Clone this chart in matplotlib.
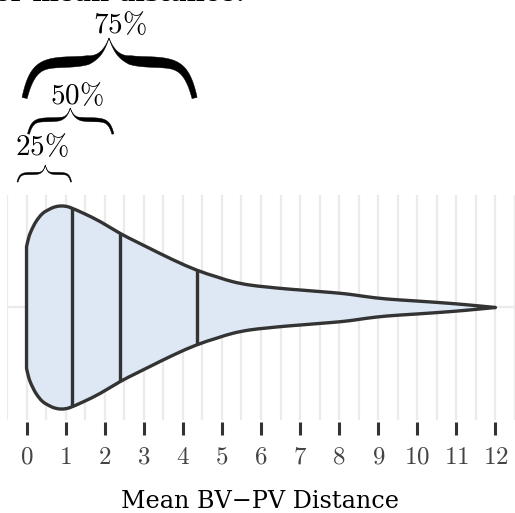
import numpy as np
import matplotlib
matplotlib.use("Agg")
import matplotlib.pyplot as plt
from matplotlib.patches import Polygon, PathPatch
from matplotlib.path import Path
from matplotlib.transforms import IdentityTransform

plt.rcParams["mathtext.fontset"] = "cm"

# Distribution of mean BV-PV distance (relative density along the axis)
dist_x = [0.0, 0.05, 0.11, 0.24, 0.41, 0.62, 0.75, 0.87, 1.0, 1.13, 1.47,
          1.89, 2.4, 2.8, 3.16, 3.76, 4.35, 4.86, 5.28, 5.7, 6.15, 6.6, 7.02,
          7.5, 8.03, 8.4, 8.71, 9.22, 9.98, 10.83, 11.51, 12.0]
density = [0.599, 0.680, 0.747, 0.845, 0.926, 0.975, 0.993, 1.0, 0.997,
           0.983, 0.926, 0.845, 0.729, 0.650, 0.581, 0.468, 0.369, 0.303,
           0.254, 0.222, 0.202, 0.185, 0.172, 0.157, 0.140, 0.123, 0.106,
           0.084, 0.064, 0.041, 0.018, 0.0]
quartiles = [1.17, 2.40, 4.35]
quartile_labels = ["25%", "50%", "75%"]
tick_values = list(range(13))
x_label = "Mean BV\u2212PV Distance"
title_text = "per mean distance."

W, H = 515, 513
fig = plt.figure(figsize=(W / 100, H / 100), dpi=100)
ax = fig.add_axes([7 / W, 1 - 420 / H, 508 / W, 225 / H])
ax.set_xlim(-0.432, 12.484)
ax.set_ylim(-0.5, 0.5)

# grid: integer and half-integer verticals, plus the centre line
ax.set_xticks(tick_values)
ax.set_xticks(np.arange(-0.5, 12.6, 0.5), minor=True)
ax.set_yticks([0])
ax.grid(which="both", axis="x", color="#ebebeb", lw=1.6, zorder=0)
ax.grid(which="major", axis="y", color="#ebebeb", lw=1.6, zorder=0)
ax.set_axisbelow(True)
for sp in ax.spines.values():
    sp.set_visible(False)
ax.spines["bottom"].set_position(("outward", 1.5))
ax.tick_params(axis="y", length=0, labelleft=False)
ax.tick_params(axis="x", which="minor", length=0)
ax.tick_params(axis="x", which="major", direction="out", length=9.4,
               width=2.2, color="#333333", pad=7, labelsize=18,
               labelcolor="#444444")
ax.set_xticklabels([f"${t}$" for t in tick_values])


def smooth_path(pts):
    """Catmull-Rom curve through the given points, as cubic Bezier segments."""
    pts = np.asarray(pts, float)
    verts = [pts[0]]
    codes = [Path.MOVETO]
    n = len(pts)
    for i in range(n - 1):
        p0 = pts[max(i - 1, 0)]
        p1, p2 = pts[i], pts[i + 1]
        p3 = pts[min(i + 2, n - 1)]
        c1 = p1 + (p2 - p0) / 6
        c2 = p2 - (p3 - p1) / 6
        verts += [c1, c2, p2]
        codes += [Path.CURVE4] * 3
    return verts, codes


# violin body
half_max = 101.5 / 225
xs = np.array(dist_x)
hw = np.array(density) * half_max
top_v, top_c = smooth_path(np.column_stack([xs, hw]))
bot_v, bot_c = smooth_path(np.column_stack([xs[::-1], -hw[::-1]]))
verts = top_v + bot_v[1:] + [top_v[0]]
codes = top_c + bot_c[1:] + [Path.CLOSEPOLY]
ax.add_patch(PathPatch(Path(verts, codes), facecolor="#dde8f4",
                       edgecolor="#333333", lw=2.4, joinstyle="round",
                       zorder=3))
for q in quartiles:
    h = np.interp(q, xs, hw)
    ax.plot([q, q], [-h, h], color="#333333", lw=2.4, zorder=4,
            solid_capstyle="butt")


def brace(x0, x1, xm, ybot_px, height, tmax, tau, level):
    """Upward curly brace drawn in pixel space (y measured from the top)."""
    px0 = ax.transData.transform((x0, 0))[0]
    px1 = ax.transData.transform((x1, 0))[0]
    pxm = ax.transData.transform((xm, 0))[0]
    yb = H - ybot_px
    s = np.linspace(0, 1, 300)
    f = level * (1 - np.exp(-s / tau)) + (1 - level) * np.exp(-(1 - s) / tau)
    f = (f - f[0]) / (f[-1] - f[0])
    t = tmax * (0.5 + 0.5 * np.sin(np.pi * s)) * np.clip((1 - s) / 0.25, 0, 1)
    for xa, xb in ((px0, pxm), (px1, pxm)):
        x = xa + s * (xb - xa)
        y = yb + height * f
        dx, dy = np.gradient(x), np.gradient(y)
        nrm = np.hypot(dx, dy)
        nx, ny = -dy / nrm, dx / nrm
        up = np.column_stack([x + nx * t / 2, y + ny * t / 2])
        lo = np.column_stack([x - nx * t / 2, y - ny * t / 2])
        poly = np.vstack([up, lo[::-1]])
        fig.add_artist(Polygon(poly, closed=True, facecolor="black",
                               edgecolor="black", lw=0.3,
                               transform=IdentityTransform()))


# braces spanning from the origin to each quartile
brace(-0.23, 1.14, 0.48, 182, 17, 2.2, 0.08, 0.5)
brace(0.05, 2.21, 1.12, 134, 26, 4.0, 0.09, 0.55)
brace(-0.05, 4.30, 2.11, 98, 60, 10.5, 0.10, 0.6)

label_pos = [(42, 147), (77, 96), (120, 25)]
for lab, (px, py) in zip(quartile_labels, label_pos):
    fig.text(px / W, 1 - py / H, "$" + lab.replace("%", r"\%") + "$",
             ha="center", va="center", fontsize=21, color="black")

fig.text(260 / W, 1 - 508 / H, x_label, ha="center", va="baseline",
         family="DejaVu Serif", fontsize=17.2, color="black")
fig.text(245 / W, 1 - 1.5 / H, title_text, ha="right", va="baseline",
         family="DejaVu Serif", fontweight="bold", fontsize=18)

fig.savefig("out.png", dpi=100)
